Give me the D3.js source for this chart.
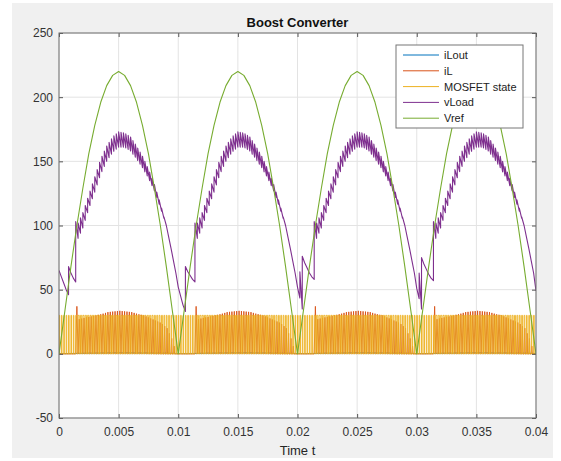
<!DOCTYPE html>
<html>
<head>
<meta charset="utf-8">
<script src="https://cdn.jsdelivr.net/npm/d3@7"></script>
<style>
    body { margin: 0; background: #fff; }
    text { font-family: "Liberation Sans", Arial, sans-serif; }
</style>
</head>
<body>
<div id="display"></div>
<script>
var timeTicks = [0, 0.005, 0.01, 0.015, 0.02, 0.025, 0.03, 0.035, 0.04];
var timeTickLabels = ['0', '0.005', '0.01', '0.015', '0.02', '0.025', '0.03', '0.035', '0.04'];
var valueTicks = [-50, 0, 50, 100, 150, 200, 250];
var valueTickLabels = ['-50', '0', '50', '100', '150', '200', '250'];
var seriesNames = ['iLout', 'iL', 'MOSFET state', 'vLoad', 'Vref'];

// Vref sampled every 0.5 ms
var vrefStep = 0.0005;
var vrefValues = [
    0, 34, 68, 100, 129, 156, 178, 196, 209, 217, 220, 217, 209, 196, 178, 156, 129, 100, 68, 34,
    0, 34, 68, 100, 129, 156, 178, 196, 209, 217, 220, 217, 209, 196, 178, 156, 129, 100, 68, 34,
    0, 34, 68, 100, 129, 156, 178, 196, 209, 217, 220, 217, 209, 196, 178, 156, 129, 100, 68, 34,
    0, 34, 68, 100, 129, 156, 178, 196, 209, 217, 220, 217, 209, 196, 178, 156, 129, 100, 68, 34,
    0
];

// switching signals, read at these times (s)
var keyTimes = [
    0, 0.0004, 0.0006, 0.0008, 0.001, 0.0012, 0.0014, 0.0016, 0.002, 0.0025, 0.003, 0.0035, 0.004,
    0.0045, 0.005, 0.0055, 0.006, 0.0065, 0.007, 0.0075, 0.008, 0.0085, 0.009, 0.0094, 0.0098,
    0.01, 0.0104, 0.0106, 0.0108, 0.011, 0.0112, 0.0114, 0.0116, 0.012, 0.0125, 0.013, 0.0135, 0.014,
    0.0145, 0.015, 0.0155, 0.016, 0.0165, 0.017, 0.0175, 0.018, 0.0185, 0.019, 0.0194, 0.0198,
    0.02, 0.0204, 0.0206, 0.0208, 0.021, 0.0212, 0.0214, 0.0216, 0.022, 0.0225, 0.023, 0.0235, 0.024,
    0.0245, 0.025, 0.0255, 0.026, 0.0265, 0.027, 0.0275, 0.028, 0.0285, 0.029, 0.0294, 0.0298,
    0.03, 0.0304, 0.0306, 0.0308, 0.031, 0.0312, 0.0314, 0.0316, 0.032, 0.0325, 0.033, 0.0335, 0.034,
    0.0345, 0.035, 0.0355, 0.036, 0.0365, 0.037, 0.0375, 0.038, 0.0385, 0.039, 0.0394, 0.0398,
    0.04
];
// vLoad: bottom and top of each switching tooth
var vLoadLow = [
    65, 55, 50, 46, 63, 59, 56, 90, 98, 113, 126, 140, 150, 157, 161, 161, 158, 152, 145, 137, 127, 114, 100, 82, 63,
    52, 38, 33, 64, 61, 58, 56, 90, 98, 113, 126, 140, 150, 157, 161, 161, 158, 152, 145, 137, 127, 114, 100, 82, 63,
    52, 35, 71, 67, 63, 60, 58, 90, 98, 113, 126, 140, 150, 157, 161, 161, 158, 152, 145, 137, 127, 114, 100, 82, 63,
    51, 35, 70, 66, 62, 59, 57, 90, 98, 113, 126, 140, 150, 157, 161, 161, 158, 152, 145, 137, 127, 114, 100, 82, 63,
    49
];
var vLoadHigh = [
    65, 55, 50, 68, 63, 59, 103, 102, 110, 124, 138, 152, 162, 169, 173, 172, 169, 162, 154, 144, 132, 117, 100, 82, 63,
    52, 38, 68, 64, 61, 58, 102, 102, 110, 124, 138, 152, 162, 169, 173, 172, 169, 162, 154, 144, 132, 117, 100, 82, 63,
    52, 76, 71, 67, 63, 60, 103, 102, 110, 124, 138, 152, 162, 169, 173, 172, 169, 162, 154, 144, 132, 117, 100, 82, 63,
    51, 75, 70, 66, 62, 59, 103, 102, 110, 124, 138, 152, 162, 169, 173, 172, 169, 162, 154, 144, 132, 117, 100, 82, 63,
    49
];
// iL: peak of each switching triangle and its fall time (share of a period)
var iLPeak = [
    0, 0, 0, 0, 0, 0, 37, 27, 28, 29, 30, 31, 32.5, 33, 33.5, 33, 32.5, 31, 30, 28, 26, 24, 20, 12, 0,
    0, 0, 0, 0, 0, 0, 37, 27, 28, 29, 30, 31, 32.5, 33, 33.5, 33, 32.5, 31, 30, 28, 26, 24, 20, 12, 0,
    0, 0, 0, 0, 0, 0, 37, 27, 28, 29, 30, 31, 32.5, 33, 33.5, 33, 32.5, 31, 30, 28, 26, 24, 20, 12, 0,
    0, 0, 0, 0, 0, 0, 37, 27, 28, 29, 30, 31, 32.5, 33, 33.5, 33, 32.5, 31, 30, 28, 26, 24, 20, 12, 0,
    0
];
var iLFall = [
    .3, .3, .3, .3, .3, .3, .5, .5, .5, .5, .5, .5, .5, .5, .5, .5, .5, .5, .5, .4, .3, .25, .2, .2, .2,
    .3, .3, .3, .3, .3, .3, .5, .5, .5, .5, .5, .5, .5, .5, .5, .5, .5, .5, .5, .4, .3, .25, .2, .2, .2,
    .3, .3, .3, .3, .3, .3, .5, .5, .5, .5, .5, .5, .5, .5, .5, .5, .5, .5, .5, .4, .3, .25, .2, .2, .2,
    .3, .3, .3, .3, .3, .3, .5, .5, .5, .5, .5, .5, .5, .5, .5, .5, .5, .5, .5, .4, .3, .25, .2, .2, .2,
    .3
];
var mosfetDuty = [
    .25, .25, .25, .25, .25, .25, .5, .5, .5, .5, .5, .5, .5, .5, .5, .5, .5, .5, .5, .45, .4, .35, .3, .25, .25,
    .25, .25, .25, .25, .25, .25, .5, .5, .5, .5, .5, .5, .5, .5, .5, .5, .5, .5, .5, .45, .4, .35, .3, .25, .25,
    .25, .25, .25, .25, .25, .25, .5, .5, .5, .5, .5, .5, .5, .5, .5, .5, .5, .5, .5, .45, .4, .35, .3, .25, .25,
    .25, .25, .25, .25, .25, .25, .5, .5, .5, .5, .5, .5, .5, .5, .5, .5, .5, .5, .5, .45, .4, .35, .3, .25, .25,
    .25
];
var iLoutValues = [
    .3, .2, .2, .2, .3, .3, .3, .4, .5, .6, .6, .7, .7, .8, .8, .8, .8, .7, .7, .7, .6, .6, .5, .4, .3,
    .3, .2, .2, .2, .3, .3, .3, .4, .5, .6, .6, .7, .7, .8, .8, .8, .8, .7, .7, .7, .6, .6, .5, .4, .3,
    .3, .2, .2, .2, .3, .3, .3, .4, .5, .6, .6, .7, .7, .8, .8, .8, .8, .7, .7, .7, .6, .6, .5, .4, .3,
    .3, .2, .2, .2, .3, .3, .3, .4, .5, .6, .6, .7, .7, .8, .8, .8, .8, .7, .7, .7, .6, .6, .5, .4, .3,
    .3
];
var mosfetHigh = 30;
var switchPeriod = 0.0002;

(function() {
    var colors = ['#0072BD', '#D95319', '#EDB120', '#7E2F8E', '#77AC30'];
    var svgWidth = 561, svgHeight = 461;
    var plotLeft = 59, plotRight = 536, plotTop = 33, plotBottom = 418;

    var svg = d3.select('#display').append('svg').attr('width', svgWidth).attr('height', svgHeight);

    svg.append('rect').attr('x', 12).attr('y', 3).attr('width', 541).attr('height', 455).attr('fill', '#f0f0f0');
    svg.append('rect').attr('x', plotLeft).attr('y', plotTop)
        .attr('width', plotRight - plotLeft).attr('height', plotBottom - plotTop).attr('fill', '#fff');

    var x = d3.scaleLinear().domain([0, 0.04]).range([plotLeft, plotRight]);
    var y = d3.scaleLinear().domain([-50, 250]).range([plotBottom, plotTop]);

    // grid
    svg.append('g').selectAll('line').data(timeTicks).enter().append('line')
        .attr('x1', function(d) { return x(d); }).attr('x2', function(d) { return x(d); })
        .attr('y1', plotTop).attr('y2', plotBottom)
        .attr('stroke', '#e3e3e3').attr('stroke-width', 1);
    svg.append('g').selectAll('line').data(valueTicks).enter().append('line')
        .attr('y1', function(d) { return y(d); }).attr('y2', function(d) { return y(d); })
        .attr('x1', plotLeft).attr('x2', plotRight)
        .attr('stroke', '#e3e3e3').attr('stroke-width', 1);

    svg.append('clipPath').attr('id', 'plotclip').append('rect')
        .attr('x', plotLeft).attr('y', plotTop).attr('width', plotRight - plotLeft).attr('height', plotBottom - plotTop);
    var plot = svg.append('g').attr('clip-path', 'url(#plotclip)');

    var lowAt = d3.scaleLinear().domain(keyTimes).range(vLoadLow);
    var highAt = d3.scaleLinear().domain(keyTimes).range(vLoadHigh);
    var peakAt = d3.scaleLinear().domain(keyTimes).range(iLPeak);
    var fallAt = d3.scaleLinear().domain(keyTimes).range(iLFall);
    var dutyAt = d3.scaleLinear().domain(keyTimes).range(mosfetDuty);

    var nSwitch = Math.round(0.04 / switchPeriod);
    var switchTimes = d3.range(nSwitch + 1).map(function(k) { return k / 5000; });

    var vLoadPts = [], iLPts = [], mosfetPts = [];
    switchTimes.forEach(function(t, k) {
        var lo = lowAt(t), hi = highAt(t);
        vLoadPts.push([t, lo]);
        if (k < nSwitch && Math.abs(hi - lo) > 0.01) vLoadPts.push([t, hi]);
        if (k == nSwitch) {
            iLPts.push([t, 0]);
            mosfetPts.push([t, 0]);
            return;
        }
        var on = t + dutyAt(t) * switchPeriod;
        var off = Math.min(on + fallAt(t) * switchPeriod, t + switchPeriod);
        iLPts.push([t, 0], [on, peakAt(t)], [off, 0]);
        mosfetPts.push([t, 0], [t, mosfetHigh], [on, mosfetHigh], [on, 0]);
    });

    var vrefPts = vrefValues.map(function(v, i) { return [i * vrefStep, v]; });
    var iLoutPts = iLoutValues.map(function(v, i) { return [keyTimes[i], v]; });

    var line = d3.line().x(function(d) { return x(d[0]); }).y(function(d) { return y(d[1]); });

    var series = [
        { pts: iLoutPts, w: 1 },
        { pts: iLPts, w: 0.9 },
        { pts: mosfetPts, w: 0.9 },
        { pts: vLoadPts, w: 1.1 },
        { pts: vrefPts, w: 1.1 }
    ];
    series.forEach(function(s, i) {
        plot.append('path').attr('d', line(s.pts))
            .attr('fill', 'none').attr('stroke', colors[i]).attr('stroke-width', s.w)
            .attr('stroke-linejoin', 'round');
    });

    // axes, ticks inside on all four sides
    var xAxis = d3.axisBottom(x).tickValues(timeTicks)
        .tickFormat(function(d, i) { return timeTickLabels[i]; })
        .tickSize(-4).tickPadding(9);
    var yAxis = d3.axisLeft(y).tickValues(valueTicks)
        .tickFormat(function(d, i) { return valueTickLabels[i]; })
        .tickSize(-4).tickPadding(6);

    svg.append('g').attr('transform', 'translate(0,' + plotBottom + ')').call(xAxis);
    svg.append('g').attr('transform', 'translate(' + plotLeft + ',0)').call(yAxis);
    svg.append('g').attr('transform', 'translate(0,' + plotTop + ')')
        .call(d3.axisTop(x).tickValues(timeTicks).tickSize(-4).tickFormat(''));
    svg.append('g').attr('transform', 'translate(' + plotRight + ',0)')
        .call(d3.axisRight(y).tickValues(valueTicks).tickSize(-4).tickFormat(''));

    svg.selectAll('.domain').remove();
    svg.selectAll('.tick line').attr('stroke', '#555');
    svg.selectAll('.tick text').attr('fill', '#333').attr('font-size', 12)
        .attr('font-family', '"Liberation Sans", Arial, sans-serif');

    svg.append('rect').attr('x', plotLeft).attr('y', plotTop)
        .attr('width', plotRight - plotLeft).attr('height', plotBottom - plotTop)
        .attr('fill', 'none').attr('stroke', '#6e6e6e').attr('stroke-width', 1);

    svg.append('text').attr('x', (plotLeft + plotRight) / 2).attr('y', 27)
        .attr('text-anchor', 'middle').attr('font-size', 13).attr('font-weight', 'bold').attr('fill', '#111')
        .text('Boost Converter');
    svg.append('text').attr('x', (plotLeft + plotRight) / 2).attr('y', 455)
        .attr('text-anchor', 'middle').attr('font-size', 13).attr('fill', '#262626')
        .text('Time t');

    // legend
    var legend = svg.append('g').attr('transform', 'translate(396,45)');
    legend.append('rect').attr('width', 127).attr('height', 83)
        .attr('fill', '#fff').attr('stroke', '#777').attr('stroke-width', 1);
    var items = legend.selectAll('g.item').data(seriesNames).enter().append('g')
        .attr('transform', function(d, i) { return 'translate(0,' + (10 + i * 15.8) + ')'; });
    items.append('line').attr('x1', 7).attr('x2', 43).attr('y1', 0).attr('y2', 0)
        .attr('stroke', function(d, i) { return colors[i]; }).attr('stroke-width', 1);
    items.append('text').attr('x', 48).attr('y', 4).attr('font-size', 11).attr('fill', '#222')
        .text(function(d) { return d; });
})();
</script>
</body>
</html>
